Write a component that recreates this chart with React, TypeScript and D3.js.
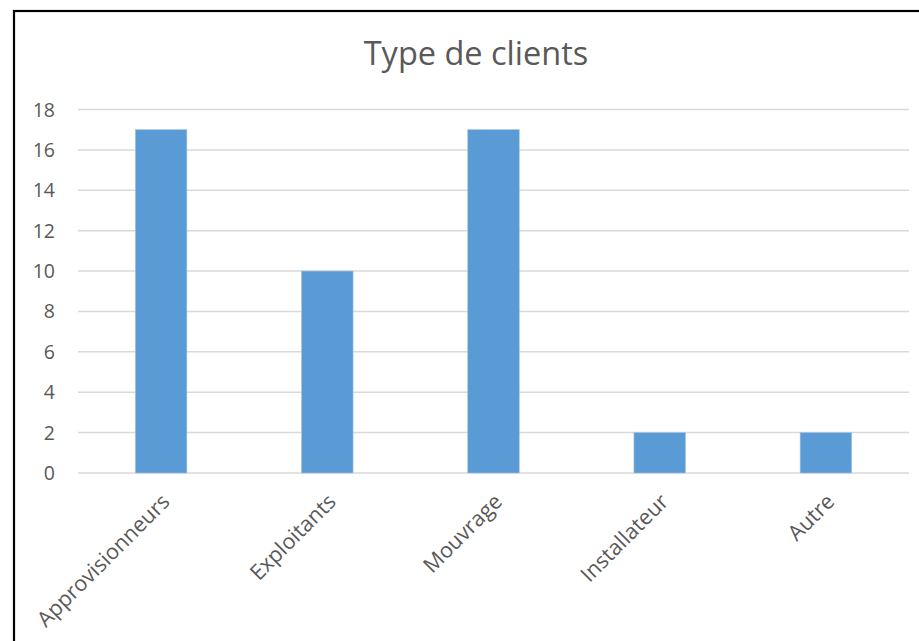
import React from "react";
import * as d3 from "d3";

const categories = ["Approvisionneurs", "Exploitants", "Mouvrage", "Installateur", "Autre"];
const values = [17, 10, 17, 2, 2];
const yTicks = [0, 2, 4, 6, 8, 10, 12, 14, 16, 18];
const title = "Type de clients";

const W = 919;
const H = 641;
const FONT = "'Open Sans', 'Liberation Sans', sans-serif";

export default function App() {
  const left = 78, right = 909, top = 109.5, bottom = 473;
  const x = d3.scaleBand<string>().domain(categories).range([left, right]).paddingInner(0.69).paddingOuter(0.345);
  const y = d3.scaleLinear().domain([0, 18]).range([bottom, top]);
  return (
    <svg width={W} height={H} style={{ position: "absolute", left: 0, top: 0, display: "block", background: "#fff" }}>
      <rect x={14} y={11} width={W + 10} height={H + 10} fill="#fff" stroke="#000" strokeWidth={2.2} />
      <text x={476} y={65} textAnchor="middle" fontFamily={FONT} fontSize={32.5} fill="#595959">{title}</text>
      {yTicks.map((t) => (
        <g key={t}>
          <line x1={left} x2={right} y1={y(t)} y2={y(t)} stroke="#d9d9d9" strokeWidth={1.5} />
          <text x={55} y={y(t)} dy="0.36em" textAnchor="end" fontFamily={FONT} fontSize={19.5} fill="#595959">{t}</text>
        </g>
      ))}
      {categories.map((c, i) => (
        <rect key={c} x={x(c)} y={y(values[i])} width={x.bandwidth()} height={y(0) - y(values[i])} fill="#5b9bd5" stroke="#9dc3e6" strokeWidth={0.6} />
      ))}
      {categories.map((c) => {
        const cx = (x(c) as number) + x.bandwidth() / 2 + 10;
        const cy = 503;
        return (
          <text key={c} x={cx} y={cy} textAnchor="end" transform={`rotate(-45 ${cx} ${cy})`} fontFamily={FONT} fontSize={21.5} fill="#595959">{c}</text>
        );
      })}
    </svg>
  );
}
